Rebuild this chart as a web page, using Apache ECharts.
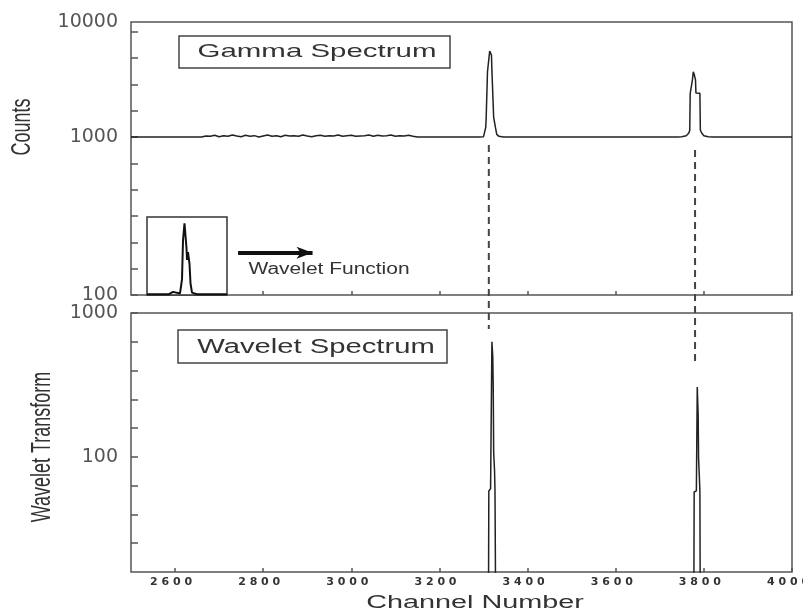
<!DOCTYPE html>
<html><head><meta charset="utf-8">
<script src="https://cdn.jsdelivr.net/npm/echarts@6/dist/echarts.min.js"></script>
<style>html,body{margin:0;padding:0;background:#fff}#c{width:803px;height:613px}</style>
</head><body><div id="c"></div>
<script>
// ---- data ----
const xTickValues = [2600, 2800, 3000, 3200, 3400, 3600, 3800, 4000];
const topYLabelValues = [100, 1000, 5346];
const topYLabels = ['100', '1000', '10000'];
const bottomYLabelValues = [100, 1000];
const bottomYLabels = ['100', '1000'];

const gammaChannels = [2500, 2660, 2670, 2680, 2690, 2700, 2710, 2720, 2730, 2740, 2750, 2760, 2770, 2780, 2790, 2800,
  2810, 2820, 2830, 2840, 2850, 2860, 2870, 2880, 2890, 2900, 2910, 2920, 2930, 2940, 2950, 2960, 2970, 2980, 2990,
  3000, 3010, 3020, 3030, 3040, 3050, 3060, 3070, 3080, 3090, 3100, 3110, 3120, 3130, 3140, 3150,
  3290, 3300, 3303, 3305, 3306, 3308, 3309, 3313, 3314, 3316, 3318, 3319, 3322, 3323, 3325, 3327, 3330, 3335, 3345,
  3740, 3750, 3760, 3766, 3768, 3769, 3773, 3774, 3776, 3778, 3781, 3782, 3791, 3792, 3795, 3800, 3810, 3820, 4000];
const gammaCounts = [1000, 1000, 1015, 1010, 1025, 1005, 1020, 1010, 1030, 1015, 1005, 1025, 1010, 1020, 1000, 1015,
  1030, 1010, 1020, 1005, 1025, 1015, 1020, 1010, 1030, 1015, 1005, 1020, 1025, 1010, 1020, 1015, 1030, 1010, 1020,
  1025, 1010, 1015, 1020, 1030, 1010, 1025, 1015, 1020, 1030, 1010, 1020, 1015, 1025, 1010, 1000,
  1000, 1005, 1030, 1150, 1320, 1330, 2600, 2650, 3500, 3550, 3300, 2650, 2600, 1330, 1300, 1150, 1040, 1010, 1000,
  1000, 1005, 1020, 1060, 1107, 1890, 1900, 2300, 2590, 2500, 2300, 1900, 1890, 1107, 1060, 1020, 1005, 1000, 1000];

const waveletChannels = [2500, 3311, 3312, 3316, 3319, 3320, 3321, 3322, 3323, 3324, 3325, 3326, 3327, 3328,
  3777, 3778, 3783, 3785, 3786, 3787, 3788, 3789, 3790, 3791, 3792, 4000];
const waveletValues = [5, 5, 58, 60, 630, 620, 495, 300, 108, 105, 80, 58, 58, 5,
  5, 57, 58, 306, 300, 200, 97, 95, 70, 57, 5, 5];

// inset: wavelet function (arbitrary units)
const wfX = [0, 22, 26, 27, 28, 33, 35, 36, 37.5, 38.5, 39.5, 40, 41, 42.5, 43.5, 45, 50, 80];
const wfY = [0.01, 0.01, 0.04, 0.06, 0.02, 0.02, 0.2, 0.7, 0.92, 0.9, 0.6, 0.45, 0.55, 0.4, 0.15, 0.03, 0.01, 0.01];

// peak-connecting guides: [channel, top-plot value, bottom-plot value]
const guides = [[3312, 890, 775], [3780, 828, 428]];

const topYTicks = Array.from({length: 11}, (_, k) => Math.pow(10, 2 + k / 6));
const bottomYTicks = Array.from({length: 10}, (_, k) => Math.pow(10, 1.2 + k / 5));

const zip = (a, b) => a.map((v, i) => [v, b[i]]);
const lab = (vals, texts) => v => {
  const i = vals.findIndex(t => Math.abs(Math.log10(t) - Math.log10(v)) < 1e-3);
  return i >= 0 ? texts[i] : '';
};

const AX = '#555';
const chart = echarts.init(document.getElementById('c'), null, {renderer: 'canvas'});
const gridStyle = {show: true, borderColor: AX, borderWidth: 1.5, backgroundColor: 'transparent',
  containLabel: false, outerBoundsMode: 'none'};
const xBase = {
  type: 'value', min: 2500, max: 4000,
  axisLine: {show: false}, splitLine: {show: false},
  axisTick: {show: true, inside: true, length: 4, customValues: xTickValues, lineStyle: {color: AX, width: 1.5}}
};
const yLabel = {color: '#555', fontFamily: 'DejaVu Sans', fontSize: 19, margin: 13, padding: [0, 0, 9, 0]};

chart.setOption({
  animation: false,
  grid: [
    Object.assign({left: 131, right: 11, top: 22, height: 273}, gridStyle),
    Object.assign({left: 131, right: 11, top: 313, height: 259}, gridStyle),
    Object.assign({left: 147, top: 217, width: 80, height: 78, z: 5}, gridStyle, {borderColor: '#333', backgroundColor: '#fff'})
  ],
  xAxis: [
    Object.assign({gridIndex: 0, axisLabel: {show: false}}, xBase),
    Object.assign({gridIndex: 1, axisLabel: {
      show: true, customValues: xTickValues, margin: 5, padding: [0, 8, 0, 0],
      color: '#333', fontFamily: 'DejaVu Sans', fontWeight: 'bold', fontSize: 11,
      formatter: v => String(v).split('').join(' ')
    }}, xBase),
    {gridIndex: 2, type: 'value', min: 0, max: 80, show: false}
  ],
  yAxis: [
    {gridIndex: 0, type: 'log', logBase: 10, min: 100, max: 5346,
      axisLine: {show: false}, splitLine: {show: false}, minorTick: {show: false},
      axisTick: {show: true, inside: true, length: 7, customValues: topYTicks, lineStyle: {color: AX, width: 1.5}},
      axisLabel: Object.assign({customValues: topYLabelValues, formatter: lab(topYLabelValues, topYLabels)}, yLabel)},
    {gridIndex: 1, type: 'log', logBase: 10, min: 15.85, max: 1000,
      axisLine: {show: false}, splitLine: {show: false}, minorTick: {show: false},
      axisTick: {show: true, inside: true, length: 7, customValues: bottomYTicks, lineStyle: {color: AX, width: 1.5}},
      axisLabel: Object.assign({customValues: bottomYLabelValues, formatter: lab(bottomYLabelValues, bottomYLabels)}, yLabel, {padding: [0, 0, 7, 0]})},
    {gridIndex: 2, type: 'value', min: 0, max: 1, show: false}
  ],
  series: [
    {type: 'line', xAxisIndex: 0, yAxisIndex: 0, data: zip(gammaChannels, gammaCounts),
      showSymbol: false, symbol: 'none', lineStyle: {color: '#222', width: 1.5}, silent: true,
      markLine: {silent: true, symbol: ['none', 'arrow'], symbolSize: [9, 16], label: {show: false},
        lineStyle: {color: '#111', width: 4, type: 'solid'},
        data: [[{coord: [2743, 185]}, {coord: [2912, 185]}]]}},
    {type: 'line', xAxisIndex: 1, yAxisIndex: 1, data: zip(waveletChannels, waveletValues),
      showSymbol: false, symbol: 'none', lineStyle: {color: '#222', width: 1.5}, silent: true},
    {type: 'line', xAxisIndex: 2, yAxisIndex: 2, data: zip(wfX, wfY), z: 6,
      showSymbol: false, symbol: 'none', lineStyle: {color: '#111', width: 2}, silent: true}
  ]
});

const txt = (text, x, y, size, sx, sy, rot) => ({
  type: 'text', x, y, rotation: rot || 0, scaleX: sx, scaleY: sy, z: 20,
  style: {text, font: size + 'px "Liberation Sans", Arial, sans-serif', fill: '#333',
    align: 'center', verticalAlign: 'middle', textAlign: 'center', textVerticalAlign: 'middle'}
});
const box = (x, y, w, h) => ({type: 'rect', z: 19, shape: {x, y, width: w, height: h},
  style: {fill: '#fff', stroke: '#444', lineWidth: 1.5}});

const dashes = guides.map(([ch, vt, vb]) => {
  const p1 = chart.convertToPixel({xAxisIndex: 0, yAxisIndex: 0}, [ch, vt]);
  const p2 = chart.convertToPixel({xAxisIndex: 1, yAxisIndex: 1}, [ch, vb]);
  return {type: 'line', z: 18, shape: {x1: p1[0], y1: p1[1], x2: p2[0], y2: p2[1]},
    style: {stroke: '#444', lineWidth: 2, lineDash: [7, 5]}};
});

chart.setOption({
  graphic: [
    box(179, 36, 271, 32), txt('Gamma Spectrum', 317, 52, 19, 1.55, 1),
    box(178, 330, 269, 33), txt('Wavelet Spectrum', 316, 347, 20, 1.46, 1),
    txt('Wavelet Function', 329, 270, 16, 1.31, 1),
    txt('Channel Number', 475, 603, 18, 1.6, 1),
    txt('Counts', 23, 127, 18, 1, 1.5, Math.PI / 2),
    txt('Wavelet Transform', 43, 447, 18, 1, 1.5, Math.PI / 2)
  ].concat(dashes)
});
</script></body></html>
